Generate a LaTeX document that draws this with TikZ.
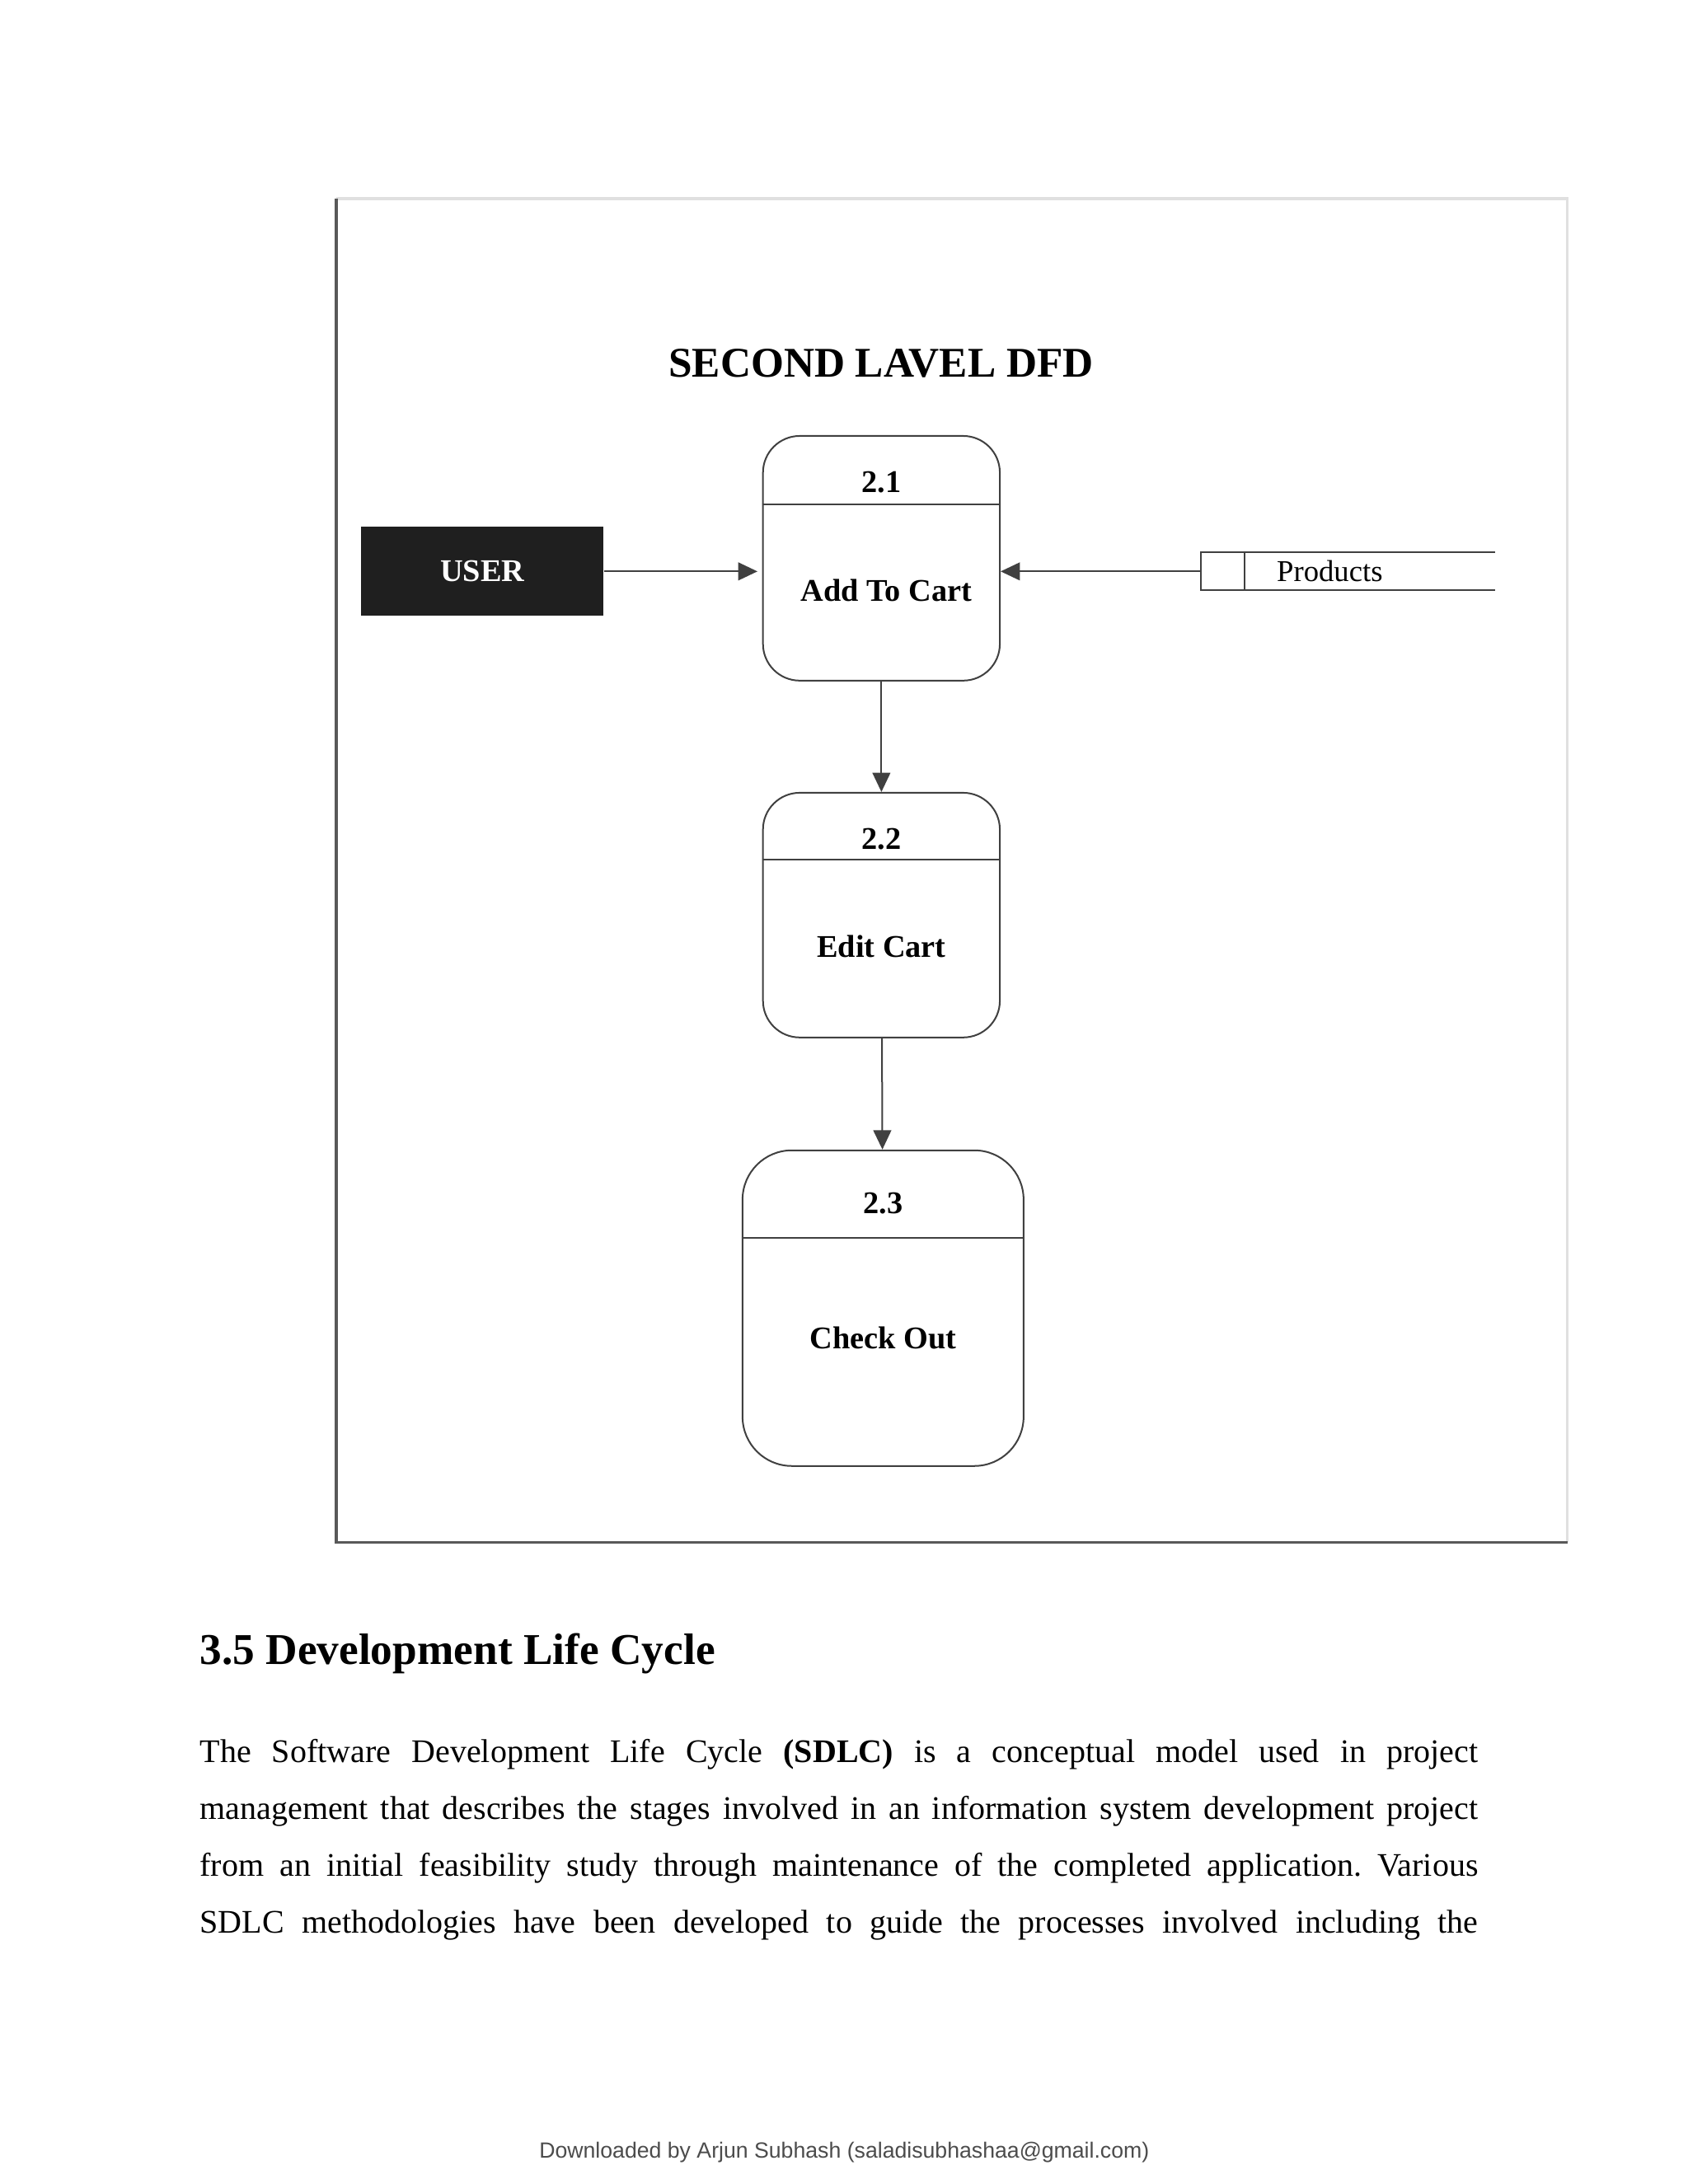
\documentclass[tikz,border=0pt]{standalone}
\usepackage{fontspec}
\setmainfont{Liberation Serif}
\setsansfont{Liberation Sans}
\usetikzlibrary{arrows.meta,positioning}
\frenchspacing

\tikzset{
  process/.style={draw=black!75, line width=0.6pt, rounded corners=0.47cm,
    minimum width=3.03cm, minimum height=3.13cm, inner sep=0pt},
  procfont/.style={font=\bfseries\fontsize{11.5}{13}\selectfont},
  flow/.style={draw=black!75, line width=0.6pt, -{Triangle[length=7pt,width=6.5pt]}},
  bodyline/.style={anchor=base west, inner sep=0pt, font=\fontsize{12}{14}\selectfont},
}

\begin{document}
\begin{tikzpicture}
    % page
    \useasboundingbox[fill=white] (0,0) rectangle (21.59,-27.94);
    % FRAME
    \draw[black!12, line width=1pt] (4.30,-2.54) -- (20.05,-2.54) -- (20.05,-19.73);
    \draw[black!65, line width=1.1pt] (4.30,-2.54) -- (4.30,-19.73) -- (20.05,-19.73);
    % title
    \node[font=\bfseries\fontsize{15.4}{18}\selectfont] (title) at (11.27,-4.65) {SECOND LAVEL DFD};
    % PROCESSES
    \node[process] (p1) at (11.275,-7.142) {};
    \node[process] (p2) at (11.275,-11.707) {};
    \node[process, rounded corners=0.63cm, minimum width=3.595cm, minimum height=4.038cm] (p3) at (11.296,-16.735) {};
    % dividers
    \draw[black!75, line width=0.6pt] ([yshift=-0.89cm]p1.north west) -- ([yshift=-0.89cm]p1.north east);
    \draw[black!75, line width=0.6pt] ([yshift=-0.87cm]p2.north west) -- ([yshift=-0.87cm]p2.north east);
    \draw[black!75, line width=0.6pt] ([yshift=-1.13cm]p3.north west) -- ([yshift=-1.13cm]p3.north east);
    % process texts
    \node[procfont] (n1) at (11.275,-6.167) {2.1};
    \node[procfont] (t1) at (11.34,-7.558) {Add To Cart};
    \node[procfont] (n2) at (11.275,-10.73) {2.2};
    \node[procfont] (t2) at (11.275,-12.11) {Edit Cart};
    \node[procfont] (n3) at (11.296,-15.39) {2.3};
    \node[procfont] (t3) at (11.296,-17.12) {Check Out};
    % external entity
    \node[fill=black!88, text=white, minimum width=3.10cm, minimum height=1.14cm,
      procfont] (user) at (6.17,-7.31) {USER};
    % data store
    \node[minimum width=3.753cm, minimum height=0.474cm, inner sep=0pt] (store) at (17.24,-7.31) {};
    \draw[black!75, line width=0.6pt] (store.north east) -- (store.north west) -- (store.south west) -- (store.south east);
    \draw[black!75, line width=0.6pt] ([xshift=0.56cm]store.north west) -- ([xshift=0.56cm]store.south west);
    \node[font=\fontsize{11}{13}\selectfont] (products) at (17.01,-7.31) {Products};
    % FLOWS
    \draw[flow, shorten >=0.06cm] (user.east) -- (p1.west |- user.east);
    \draw[flow] (store.west) -- (p1.east |- store.west);
    \draw[flow] (p1) -- (p2);
    \draw[flow] (p2) -- (p3);
    % TEXT BELOW
    \node[anchor=base west, inner sep=0pt, font=\bfseries\fontsize{16}{19}\selectfont] (heading) at (2.551,-21.295) {3.5 Development Life Cycle};
    \node[bodyline] (line1) at (2.551,-22.549) {\makebox[16.35cm][s]{The Software Development Life Cycle \textbf{(SDLC)} is a conceptual model used in project}};
    \node[bodyline] (line2) at (2.551,-23.277) {\makebox[16.35cm][s]{management that describes the stages involved in an information system development project}};
    \node[bodyline] (line3) at (2.551,-24.004) {\makebox[16.35cm][s]{from an initial feasibility study through maintenance of the completed application. Various}};
    \node[bodyline] (line4) at (2.551,-24.732) {\makebox[16.35cm][s]{SDLC methodologies have been developed to guide the processes involved including the}};
    % footer
    \node[anchor=base, inner sep=0pt, text=black!70, font=\sffamily\fontsize{8}{10}\selectfont] (footer) at (10.80,-27.61) {Downloaded by Arjun Subhash (saladisubhashaa@gmail.com)};
\end{tikzpicture}
\end{document}
